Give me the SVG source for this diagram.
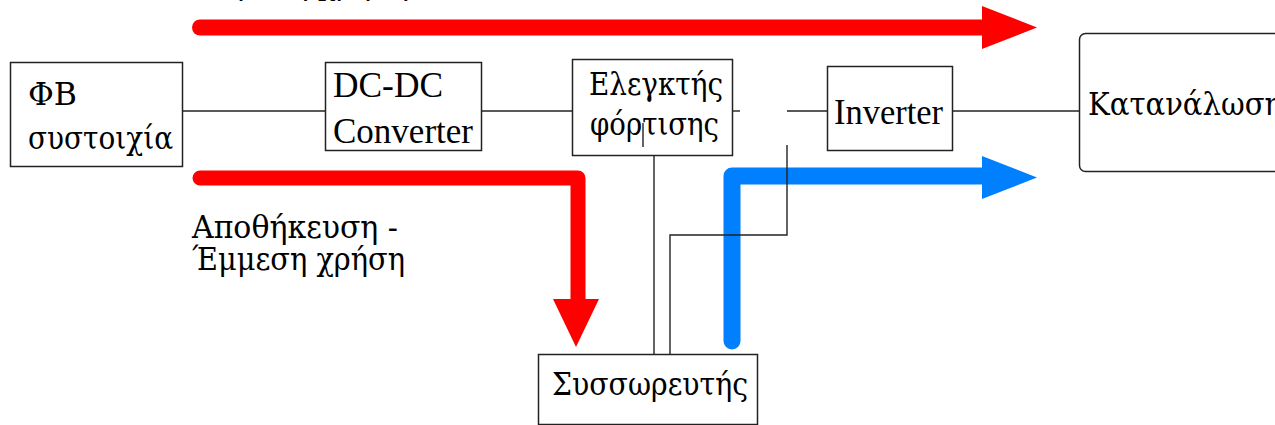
<svg xmlns="http://www.w3.org/2000/svg" width="1275" height="425" viewBox="0 0 1275 425">
<style>
.box{fill:#fff;stroke:#222;stroke-width:1.5}
.t{font-family:'Liberation Serif','Times New Roman',serif;font-size:35px;fill:#000}
.g{font-family:'DejaVu Serif','Liberation Serif',serif;font-size:31px;fill:#000}
.ln{fill:none;stroke:#222;stroke-width:1.4}
.red{fill:none;stroke:#ff0000;stroke-linejoin:round;stroke-linecap:round}
.blue{fill:none;stroke:#0080ff;stroke-linejoin:round;stroke-linecap:round}
</style>
<rect width="1275" height="425" fill="#fff"/>
<g id="flows">
<path class="red" stroke-width="16" d="M200,27.5 H985"/>
<polygon fill="#ff0000" points="982,6 1037,27.5 982,49"/>
<path class="red" stroke-width="15" d="M200,178 H578 V300"/>
<polygon fill="#ff0000" points="553,299 599,299 576,347"/>
<path class="blue" stroke-width="17" d="M732,341 V176 H985"/>
<polygon fill="#0080ff" points="982,156 1037,177.5 982,199"/>
</g>
<g id="connectors">
<path class="ln" d="M183,111 H325"/>
<path class="ln" d="M482,111 H572"/>
<path class="ln" d="M733,111 H740"/>
<path class="ln" d="M787,111 H827"/>
<path class="ln" d="M953,111 H1079"/>
<path class="ln" d="M654,156 V354"/>
<path class="ln" d="M670,357 V235 H787 V145"/>
</g>
<g id="pv">
<rect class="box" x="10.5" y="62.5" width="172" height="104"/>
<text class="g" x="28" y="105" textLength="49" lengthAdjust="spacingAndGlyphs">ΦΒ</text>
<text class="g" x="28" y="149" textLength="145" lengthAdjust="spacingAndGlyphs">συστοιχία</text>
</g>
<g id="dcdc">
<rect class="box" x="325.5" y="62.5" width="156" height="88"/>
<text class="t" x="333" y="97" textLength="110" lengthAdjust="spacingAndGlyphs">DC-DC</text>
<text class="t" x="333" y="143" textLength="140" lengthAdjust="spacingAndGlyphs">Converter</text>
</g>
<g id="controller">
<rect class="box" x="572.5" y="59.5" width="160" height="96"/>
<text class="g" x="589" y="95" textLength="134" lengthAdjust="spacingAndGlyphs">Ελεγκτής</text>
<text class="g" x="590" y="135" textLength="129" lengthAdjust="spacingAndGlyphs">φόρτισης</text>
<path class="ln" stroke="#000" d="M643,123 V147"/>
</g>
<g id="inverter">
<rect class="box" x="827.5" y="66.5" width="125" height="84"/>
<text class="t" x="834" y="124" textLength="109" lengthAdjust="spacingAndGlyphs">Inverter</text>
</g>
<g id="load">
<rect class="box" x="1079.5" y="33.5" width="210" height="138" rx="6"/>
<text class="g" x="1088" y="115" textLength="194" lengthAdjust="spacingAndGlyphs">Κατανάλωση</text>
</g>
<g id="battery">
<rect class="box" x="538.5" y="354.5" width="219" height="70"/>
<text class="g" x="552" y="395" textLength="196" lengthAdjust="spacingAndGlyphs">Συσσωρευτής</text>
</g>
<g id="labels">
<text class="g" x="215" y="-6.5" textLength="194" lengthAdjust="spacingAndGlyphs">Άμεση χρήση</text>
<text class="g" x="192" y="238" textLength="206" lengthAdjust="spacingAndGlyphs">Αποθήκευση -</text>
<text class="g" x="192" y="270" textLength="213" lengthAdjust="spacingAndGlyphs">Έμμεση χρήση</text>
</g>
</svg>
